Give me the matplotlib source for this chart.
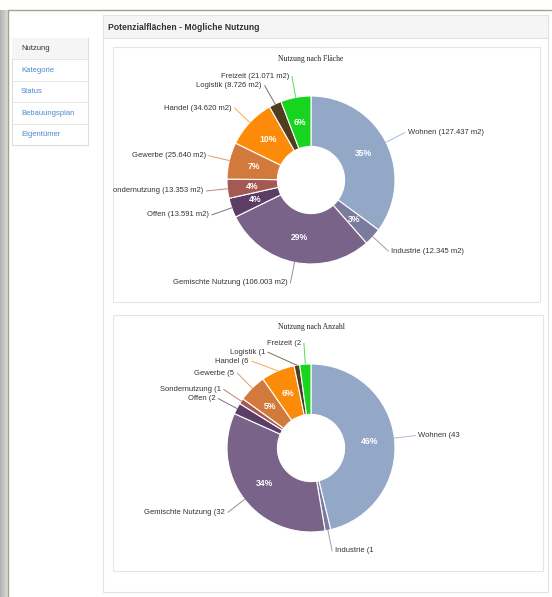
import numpy as np
import matplotlib
matplotlib.use("Agg")
from matplotlib import pyplot as plt
from matplotlib.patches import Rectangle

plt.rcParams['font.family'] = ['Liberation Sans', 'DejaVu Sans']

# data
categories = ["Wohnen", "Industrie", "Gemischte Nutzung", "Offen", "Sondernutzung",
              "Gewerbe", "Handel", "Logistik", "Freizeit"]
area_m2 = [127437, 12345, 106003, 13591, 13353, 25640, 34620, 8726, 21071]
count = [43, 1, 32, 2, 1, 5, 6, 1, 2]
colors = ["#93a7c7", "#7b7b9e", "#7a6389", "#5c3d66", "#a45a52",
          "#d17a3c", "#fc8b0a", "#4f3e1e", "#17d41f"]
menu_items = ["Nutzung", "Kategorie", "Status", "Bebauungsplan", "Eigentümer"]

W, H = 552, 597
fig = plt.figure(figsize=(W / 100, H / 100), dpi=100)
bg = fig.add_axes([0, 0, 1, 1])
bg.set_xlim(0, W)
bg.set_ylim(H, 0)
bg.axis('off')

# window shadow + frame
shade = np.linspace(0.70, 0.86, 8)[None, :]
bg.imshow(np.repeat(shade, 2, axis=0), cmap='gray', vmin=0, vmax=1,
          extent=(0, 8, H, 10), aspect='auto', zorder=0)
bg.plot([8, 8, W], [H, 10, 10], color="#a3a18a", lw=1.0, zorder=1)

# sidebar
bg.add_patch(Rectangle((12, 38), 76, 107, fc="white", ec="#dddddd", lw=0.8))
bg.add_patch(Rectangle((12, 38), 76, 21.4, fc="#f5f5f5", ec="none"))
for i, item in enumerate(menu_items):
    y0 = 38 + i * 21.4
    if i > 0:
        bg.plot([12, 88], [y0, y0], color="#e6e6e6", lw=0.7)
    bg.text(21, y0 + 11, item, fontsize=5.5, va='center',
            color="#333333" if i == 0 else "#4a89cf")

# main panel
bg.add_patch(Rectangle((103, 15), 445, 577, fc="white", ec="#e3e3e3", lw=0.8))
bg.add_patch(Rectangle((103, 15), 445, 23, fc="#f5f5f5", ec="#e3e3e3", lw=0.8))
bg.text(108, 27, "Potenzialflächen - Mögliche Nutzung", fontsize=6.2,
        fontweight='bold', va='center', color="#333333")


def donut(box, title, values, labels, cx, cy_px, r=84):
    x0, y0, x1, y1 = box
    bg.add_patch(Rectangle((x0, y0), x1 - x0, y1 - y0, fc="white", ec="#e6e6e6", lw=0.8))
    ax = fig.add_axes([x0 / W, 1 - y1 / H, (x1 - x0) / W, (y1 - y0) / H])
    cy = H - cy_px

    def pct(p):
        return f"{p:.0f}%" if p >= 3 else ""

    wedges, _, autotexts = ax.pie(values, colors=colors, startangle=90, counterclock=False,
                                  radius=r, center=(cx, cy), frame=True,
                                  autopct=pct, pctdistance=0.7,
                                  wedgeprops=dict(width=r * 0.6, edgecolor='white', linewidth=0.8),
                                  textprops=dict(color='white', fontsize=6.2, fontweight='bold'))
    ax.set_xlim(x0, x1)
    ax.set_ylim(H - y1, H - y0)
    ax.axis('off')
    ax.text(cx, H - (y0 + 12), title, family='Liberation Serif', fontsize=5.5,
            ha='center', va='center', color="#222222")

    # outside labels, pushed apart vertically per side
    R = r * 1.25
    items = []
    for w, lab in zip(wedges, labels):
        ang = np.deg2rad((w.theta1 + w.theta2) / 2)
        items.append(dict(ang=ang, lab=lab, col=w.get_facecolor(),
                          x=cx + R * np.cos(ang), y=cy + R * np.sin(ang)))
    for side in (-1, 1):
        grp = sorted([it for it in items if np.sign(it['x'] - cx) == side],
                     key=lambda it: -it['y'])
        prev = None
        for it in grp:
            if prev is not None and it['y'] > prev - 9:
                it['y'] = prev - 9
                dy = it['y'] - cy
                if abs(dy) < R:
                    it['x'] = cx + side * np.sqrt(R ** 2 - dy ** 2)
            prev = it['y']
    for it in items:
        sx = cx + r * np.cos(it['ang'])
        sy = cy + r * np.sin(it['ang'])
        ax.plot([sx, it['x']], [sy, it['y']], color=it['col'], lw=0.7, alpha=0.75)
        right = it['x'] >= cx
        ax.text(it['x'] + (3 if right else -3), it['y'], it['lab'], fontsize=5.5,
                ha='left' if right else 'right', va='center', color="#333333",
                clip_on=True)
    return ax


area_labels = [f"{c} ({v:,} m2)".replace(",", ".") for c, v in zip(categories, area_m2)]
count_labels = [f"{c} ({v}" for c, v in zip(categories, count)]

donut((113, 47, 540, 302), "Nutzung nach Fläche", area_m2, area_labels, 311, 180)
donut((113, 315, 543, 571), "Nutzung nach Anzahl", count, count_labels, 311, 448)

fig.savefig("out.png", dpi=100)
